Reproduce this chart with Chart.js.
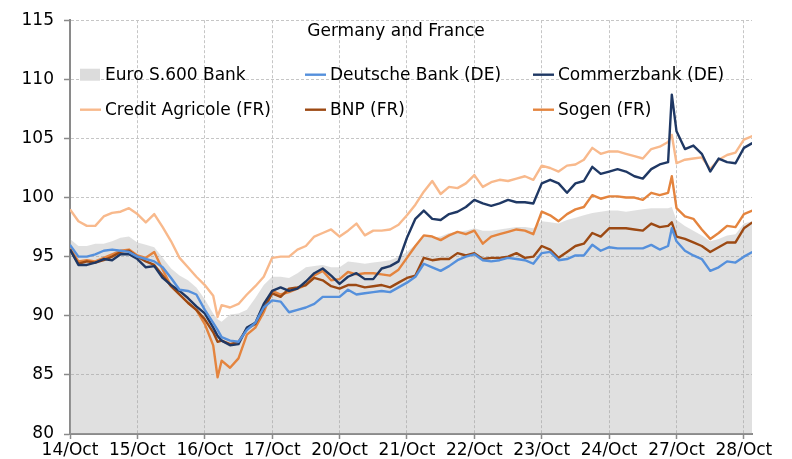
<!DOCTYPE html>
<html>
<head>
<meta charset="utf-8">
<script src="https://cdn.jsdelivr.net/npm/chart.js@4.4.1/dist/chart.umd.min.js"></script>
<style>
html,body{margin:0;padding:0;background:#fff;}
#wrap{width:792px;height:459px;}
</style>
</head>
<body>
<div id="wrap"><canvas id="c" width="792" height="459"></canvas></div>
<script>
// ---- data ----
const dayLabels = ['14/Oct','15/Oct','16/Oct','17/Oct','20/Oct','21/Oct','22/Oct','23/Oct','24/Oct','27/Oct','28/Oct'];
const chartTitle = 'Germany and France';
const seriesNames = ['Euro S.600 Bank','Deutsche Bank (DE)','Commerzbank (DE)','Credit Agricole (FR)','BNP (FR)','Sogen (FR)'];

// time in trading days since 14/Oct open
const time = [
 0,0.125,0.25,0.375,0.5,0.625,0.75,0.875,
 1,1.125,1.25,1.375,1.5,1.625,1.75,1.875,
 2,2.125,2.19,2.25,2.375,2.5,2.625,2.75,2.875,
 3,3.125,3.25,3.375,3.5,3.625,3.75,3.875,
 4,4.125,4.25,4.375,4.5,4.625,4.75,4.875,
 5,5.125,5.25,5.375,5.5,5.625,5.75,5.875,
 6,6.125,6.25,6.375,6.5,6.625,6.75,6.875,
 7,7.125,7.25,7.375,7.5,7.625,7.75,7.875,
 8,8.125,8.25,8.375,8.5,8.625,8.75,8.875,8.93,
 9,9.125,9.25,9.375,9.5,9.625,9.75,9.875,
 10,10.125
];

const euroBank = [
 96.5,95.9,95.9,96.1,96.1,96.3,96.6,96.7,
 96.2,96.0,95.8,94.9,94.0,93.4,93.0,92.4,
 91.4,90.2,89.7,89.5,90.1,90.2,90.5,91.5,92.6,
 93.3,93.3,93.2,93.6,94.1,94.2,94.3,94.1,
 94.1,94.6,94.5,94.4,94.5,94.6,94.7,95.0,
 95.4,96.0,96.8,96.6,96.7,97.0,97.1,97.2,
 97.4,97.2,97.2,97.3,97.4,97.5,97.5,97.4,
 98.0,97.9,97.8,98.1,98.3,98.5,98.7,98.8,
 98.9,98.9,98.8,98.9,99.0,99.1,99.1,99.1,99.2,
 98.1,97.6,97.2,96.8,96.3,96.5,96.8,96.9,
 97.8,98.0
];
const deutsche = [
 96.0,95.0,95.0,95.2,95.5,95.6,95.5,95.4,
 95.0,94.8,94.6,94.1,93.2,92.2,92.1,91.8,
 90.5,89.4,88.8,88.2,87.9,87.8,88.8,89.4,90.7,
 91.3,91.2,90.3,90.5,90.7,91.0,91.6,91.6,
 91.6,92.2,91.8,91.9,92.0,92.1,92.0,92.4,
 92.8,93.3,94.4,94.1,93.8,94.2,94.7,95.0,
 95.2,94.7,94.6,94.7,94.9,94.8,94.7,94.4,
 95.3,95.4,94.7,94.8,95.1,95.1,96.0,95.5,
 95.8,95.7,95.7,95.7,95.7,96.0,95.6,95.9,97.4,
 96.3,95.5,95.1,94.8,93.8,94.1,94.6,94.5,
 95.0,95.4
];
const commerzbank = [
 95.6,94.3,94.3,94.5,94.8,94.7,95.2,95.2,
 94.8,94.1,94.2,93.2,92.6,92.1,91.5,90.8,
 90.2,89.0,88.3,87.9,87.5,87.6,89.0,89.4,91.0,
 92.1,92.4,92.1,92.3,92.9,93.6,94.0,93.4,
 92.7,93.3,93.6,93.1,93.1,94.0,94.2,94.6,
 96.6,98.2,98.9,98.2,98.1,98.6,98.8,99.2,
 99.8,99.5,99.3,99.5,99.8,99.6,99.6,99.5,
 101.2,101.5,101.2,100.4,101.2,101.4,102.6,102.0,
 102.2,102.4,102.2,101.8,101.6,102.4,102.8,103.0,108.7,
 105.6,104.1,104.4,103.7,102.2,103.3,103.0,102.9,
 104.2,104.6
];
const creditAgricole = [
 99.0,98.0,97.6,97.6,98.4,98.7,98.8,99.1,
 98.6,97.9,98.6,97.5,96.3,94.9,94.1,93.3,
 92.6,91.7,89.9,90.9,90.7,91.0,91.8,92.5,93.3,
 94.9,95.0,95.0,95.6,95.9,96.7,97.0,97.3,
 96.7,97.2,97.8,96.8,97.2,97.2,97.3,97.7,
 98.5,99.4,100.5,101.4,100.3,100.9,100.8,101.2,
 101.9,100.9,101.3,101.5,101.4,101.6,101.8,101.5,
 102.7,102.5,102.2,102.7,102.8,103.2,104.2,103.7,
 103.9,103.9,103.7,103.5,103.3,104.1,104.3,104.7,105.3,
 102.9,103.2,103.3,103.4,102.4,103.2,103.6,103.8,
 104.9,105.2
];
const bnp = [
 95.6,94.4,94.6,94.5,94.7,95.0,95.4,95.5,
 95.0,94.6,94.3,93.4,92.5,91.8,91.1,90.5,
 89.7,88.6,87.8,87.9,87.6,87.8,88.9,89.3,90.6,
 91.9,91.6,92.3,92.4,92.6,93.2,93.0,92.5,
 92.3,92.6,92.6,92.4,92.5,92.6,92.4,92.8,
 93.2,93.4,94.9,94.7,94.8,94.8,95.3,95.1,
 95.3,94.8,94.9,94.9,95.0,95.3,94.9,95.0,
 95.9,95.6,94.9,95.4,95.9,96.1,97.0,96.7,
 97.4,97.4,97.4,97.3,97.2,97.8,97.5,97.6,97.9,
 96.7,96.5,96.2,95.9,95.4,95.8,96.2,96.2,
 97.4,97.9
];
const sogen = [
 95.7,94.6,94.7,94.6,94.9,95.2,95.5,95.6,
 95.1,94.9,95.4,93.9,92.5,91.8,91.1,90.5,
 89.3,87.5,84.8,86.2,85.6,86.4,88.4,89.0,90.3,
 92.1,91.8,92.0,92.3,92.6,93.4,93.8,93.0,
 93.1,93.7,93.5,93.6,93.6,93.5,93.4,93.9,
 94.9,95.9,96.8,96.7,96.4,96.8,97.1,96.9,
 97.2,96.1,96.7,96.9,97.1,97.3,97.2,96.9,
 98.8,98.5,98.0,98.6,99.0,99.2,100.2,99.9,
 100.1,100.1,100.0,100.0,99.8,100.4,100.2,100.4,101.8,
 99.1,98.4,98.2,97.3,96.5,97.0,97.6,97.5,
 98.6,98.9
];

const yTickValues = [80,85,90,95,100,105,110,115];

// ---- styling ----
const FONT = '"DejaVu Sans", sans-serif';
const COLORS = ['rgba(165,165,165,0.34)','#5590dc','#1f3864','#f8b98c','#9c4913','#e4843e'];
const LEGEND_BOX = 'rgb(220,220,220)';
const GRID = '#c6c6c6';
const AXIS = '#8a8a8a';

const pts = arr => time.map((t, i) => ({ x: t, y: arr[i] }));
const seriesData = [euroBank, deutsche, commerzbank, creditAgricole, bnp, sogen];

const datasets = seriesData.map((arr, i) => i === 0 ? {
  label: seriesNames[i], data: pts(arr), fill: 'start', backgroundColor: COLORS[0],
  borderWidth: 0, borderColor: 'rgba(0,0,0,0)', pointRadius: 0, order: 10
} : {
  label: seriesNames[i], data: pts(arr), fill: false, borderColor: COLORS[i],
  backgroundColor: COLORS[i], borderWidth: 2.4, pointRadius: 0, tension: 0, order: 1,
  borderJoinStyle: 'round'
});

// legend drawn inside the plot area, in a 3 x 2 grid like the reference
const insideLegend = {
  id: 'insideLegend',
  afterDatasetsDraw(chart) {
    const ctx = chart.ctx, a = chart.chartArea;
    ctx.save();
    ctx.font = '17px ' + FONT;
    ctx.fillStyle = '#000';
    ctx.textBaseline = 'middle';
    ctx.textAlign = 'center';
    ctx.fillText(chartTitle, (a.left + a.right) / 2 - 15, a.top + 11);
    const colX = [a.left + 10, a.left + 235, a.left + 463];
    const rowY = [a.top + 54.5, a.top + 89.5];
    chart.data.datasets.forEach((ds, i) => {
      const x = colX[i % 3], y = rowY[Math.floor(i / 3)];
      if (ds.fill) {
        ctx.fillStyle = LEGEND_BOX;
        ctx.fillRect(x, y - 6, 20, 12);
      } else {
        ctx.strokeStyle = ds.borderColor;
        ctx.lineWidth = 2.4;
        ctx.beginPath(); ctx.moveTo(x, y); ctx.lineTo(x + 21, y); ctx.stroke();
      }
      ctx.fillStyle = '#000';
      ctx.textAlign = 'left';
      ctx.fillText(ds.label, x + 25, y + 0.5);
    });
    ctx.restore();
  }
};

new Chart(document.getElementById('c'), {
  type: 'line',
  data: { datasets },
  plugins: [insideLegend],
  options: {
    responsive: false,
    devicePixelRatio: 1,
    animation: false,
    layout: { padding: { top: 18, right: 40, left: 0, bottom: 0 } },
    plugins: { legend: { display: false }, title: { display: false }, tooltip: { enabled: false } },
    scales: {
      x: {
        type: 'linear', min: 0, max: 10.12,
        afterFit: s => { s.height = 25; },
        grid: { color: GRID, lineWidth: 1, drawTicks: true, tickLength: 5, tickColor: AXIS, tickWidth: 1.5 },
        border: { display: true, color: AXIS, width: 2, dash: [3, 2] },
        ticks: {
          stepSize: 1, includeBounds: false, autoSkip: false, maxRotation: 0, minRotation: 0,
          padding: 1, color: '#000', font: { family: FONT, size: 17 },
          callback: v => (dayLabels[v] !== undefined ? dayLabels[v] : '')
        }
      },
      y: {
        min: yTickValues[0], max: yTickValues[yTickValues.length - 1],
        afterFit: s => { s.width = 70; },
        grid: { color: GRID, lineWidth: 1, drawTicks: true, tickLength: 6, tickColor: AXIS, tickWidth: 1.5 },
        border: { display: true, color: AXIS, width: 2, dash: [3, 2] },
        ticks: { stepSize: 5, padding: 10, color: '#000', font: { family: FONT, size: 17 } }
      }
    }
  }
});
</script>
</body>
</html>
